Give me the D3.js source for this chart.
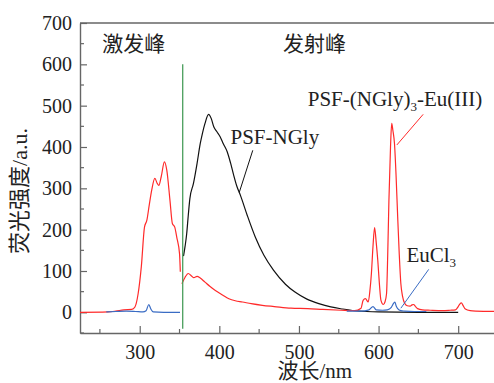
<!DOCTYPE html>
<html>
<head>
<meta charset="utf-8">
<script src="https://cdn.jsdelivr.net/npm/d3@7"></script>
<style>
  body { margin: 0; background: #fff; }
  svg { display: block; }
  text { font-family: "Liberation Serif", "Noto Sans CJK SC", serif; fill: #222; }
</style>
</head>
<body>
<div id="chart"></div>
<script>
// spectra: [wavelength nm, intensity a.u.]
const exEu = [[225,0],[260,1],[270,3],[280,6],[290,7],[294,13],[298,45],[302,110],[306,206],[309,223],[312,260],[315,295],[319,324],[322,312],[324,307],[327,328],[331,364],[334,344],[338,271],[341,215],[344,206],[346.5,182],[350,142],[351,98]];
const emEu = [[353,69],[357,85],[361,94],[365,88],[368,84],[372,87],[376,83],[382,73],[388,63],[395,53],[404,42],[412,33],[420,28],[429,25],[440,21],[454,17],[469,14],[490,10],[511,9],[530,7],[553,5],[570,4],[578,10],[580.6,29],[583.5,33],[587,25],[589,50],[591,94],[593,160],[595,205],[597,170],[599,126],[601,70],[603,29],[606,19],[608,25],[610,45],[611.5,140],[613,271],[615,400],[616.5,457],[618,440],[620,408],[622,330],[624,231],[626,140],[628,69],[630,40],[633,21],[636,16],[639.6,15],[642,18],[644,19],[646,15],[649,9],[655,6],[665,5],[680,4],[690,5],[696.6,6],[700,14],[702,20],[704,23],[706,17],[709,8],[715,4],[722,3],[750,2]];
const emNGly = [[355,136],[357,160],[359,190],[361,235],[363,275],[367.5,312],[372,360],[376,408],[379,435],[382,457],[386.5,479],[390,468],[393,449],[397,437],[401,425],[405,408],[410,388],[414,362],[418,332],[422,305],[426.5,283],[435,235],[445,183],[456,138],[468,102],[483,68],[495,49],[510,32],[525,21],[540,13],[555,8],[570,4],[585,2],[600,1],[650,0],[700,0]];
const exEuCl3 = [[258,1],[270,2],[283,3],[295,2],[304,1],[308,4],[311.4,19],[314,8],[317,1],[330,0],[350.6,0]];
const emEuCl3 = [[560,3],[578,3],[588,6],[593,14],[597,6],[605,5],[611,6],[616,12],[619,22],[620.6,25],[622,16],[624,9],[628,4],[633,3],[645,2],[660,2]];

const xTicks = [300, 400, 500, 600, 700];
const yTicks = [0, 100, 200, 300, 400, 500, 600, 700];
const divider = {x: 354, y0: -40, y1: 600};

const margin = { top: 23, right: 0, bottom: 50, left: 80 };
const width = 418;
const height = 383 - margin.top - margin.bottom;

const svg = d3.select("#chart")
    .append("svg")
    .attr("width", 494)
    .attr("height", 383);

const g = svg.append("g")
    .attr("transform", `translate(${margin.left},${margin.top})`);

const x = d3.scaleLinear().domain([225, 750]).range([0, width]);
const y = d3.scaleLinear().domain([-50, 700]).range([height, 0]);

const axisColor = "#666";
const serif = "Liberation Serif";

// minor ticks
g.selectAll("line.xminor")
    .data(d3.range(250, 750, 100))
    .enter().append("line")
    .attr("x1", d => x(d)).attr("x2", d => x(d))
    .attr("y1", height).attr("y2", height - 4)
    .attr("stroke", axisColor).attr("stroke-width", 1.2);

g.selectAll("line.yminor")
    .data(d3.range(-50, 700, 100))
    .enter().append("line")
    .attr("x1", 0).attr("x2", 4)
    .attr("y1", d => y(d)).attr("y2", d => y(d))
    .attr("stroke", axisColor).attr("stroke-width", 1.2);

const xAxis = g.append("g")
    .attr("transform", `translate(0,${height})`)
    .call(d3.axisBottom(x).tickValues(xTicks).tickSizeInner(-7).tickSizeOuter(0).tickPadding(12));

const yAxis = g.append("g")
    .call(d3.axisLeft(y).tickValues(yTicks).tickSizeInner(-7).tickSizeOuter(0).tickPadding(8));

[xAxis, yAxis].forEach(a => {
    a.attr("font-family", serif).attr("font-size", 20);
    a.select(".domain").attr("stroke", axisColor).attr("stroke-width", 1.4);
    a.selectAll(".tick line").attr("stroke", axisColor).attr("stroke-width", 1.2);
    a.selectAll(".tick text").style("font-size", "20px").style("font-family", serif).attr("fill", "#222");
});

// top frame
g.append("line")
    .attr("x1", 0).attr("x2", width)
    .attr("y1", 0).attr("y2", 0)
    .attr("stroke", axisColor).attr("stroke-width", 1.4);

const line = d3.line()
    .x(d => x(d[0]))
    .y(d => y(d[1]))
    .curve(d3.curveMonotoneX);

const series = [
    { data: emNGly, color: "#111" },
    { data: exEu, color: "#ff2a2a" },
    { data: emEu, color: "#ff2a2a" },
    { data: exEuCl3, color: "#3a6cc4" },
    { data: emEuCl3, color: "#3a6cc4" }
];

g.selectAll("path.spec")
    .data(series)
    .enter().append("path")
    .attr("class", "spec")
    .attr("d", d => line(d.data))
    .attr("fill", "none")
    .attr("stroke", d => d.color)
    .attr("stroke-width", 1.2);

// divider between excitation and emission
g.append("line")
    .attr("x1", x(divider.x)).attr("x2", x(divider.x))
    .attr("y1", y(divider.y0)).attr("y2", y(divider.y1))
    .attr("stroke", "#4a9e5c").attr("stroke-width", 1.3);

// region labels
const cjk = "Noto Sans CJK SC";
g.append("text").attr("x", x(253)).attr("y", y(633))
    .style("font-family", cjk).style("font-size", "21px").text("激发峰");
g.append("text").attr("x", x(480)).attr("y", y(633))
    .style("font-family", cjk).style("font-size", "21px").text("发射峰");

// annotations
const notes = [
    { from: [442, 392], to: [425, 290], color: "#111" },
    { from: [656, 479], to: [623, 405], color: "#ff2a2a" },
    { from: [663, 104], to: [628, 10], color: "#3a6cc4" }
];
g.selectAll("line.note")
    .data(notes)
    .enter().append("line")
    .attr("x1", d => x(d.from[0])).attr("y1", d => y(d.from[1]))
    .attr("x2", d => x(d.to[0])).attr("y2", d => y(d.to[1]))
    .attr("stroke", d => d.color).attr("stroke-width", 1);

const t1 = g.append("text").attr("x", x(414)).attr("y", y(408)).style("font-size", "21px");
t1.text("PSF-NGly");

const t2 = g.append("text").attr("x", x(511)).attr("y", y(499)).style("font-size", "21px");
t2.append("tspan").text("PSF-(NGly)");
t2.append("tspan").attr("dy", 5).style("font-size", "13px").text("3");
t2.append("tspan").attr("dy", -5).text("-Eu(III)");

const t3 = g.append("text").attr("x", x(635)).attr("y", y(122)).style("font-size", "21px");
t3.append("tspan").text("EuCl");
t3.append("tspan").attr("dy", 5).style("font-size", "13px").text("3");

// axis titles
svg.append("text")
    .attr("transform", `translate(27,${margin.top + 168}) rotate(-90)`)
    .attr("text-anchor", "middle")
    .style("font-size", "22px")
    .text("荧光强度/a.u.");

svg.append("text")
    .attr("x", margin.left + x(520))
    .attr("y", 378)
    .attr("text-anchor", "middle")
    .style("font-size", "21px")
    .text("波长/nm");
</script>
</body>
</html>
